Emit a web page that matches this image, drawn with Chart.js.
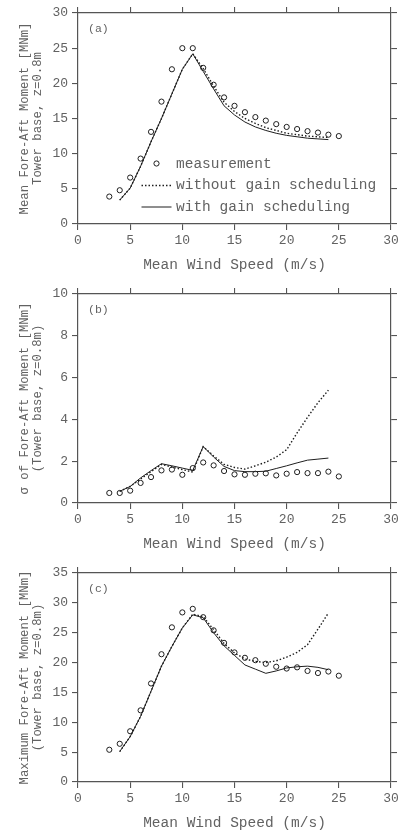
<!DOCTYPE html>
<html>
<head>
<meta charset="utf-8">
<script src="https://cdn.jsdelivr.net/npm/chart.js@4.4.1/dist/chart.umd.min.js"></script>
<style>
  html,body{margin:0;padding:0;background:#fff;}
  body{width:411px;height:831px;position:relative;overflow:hidden;}
  canvas{position:absolute;left:0;}
</style>
</head>
<body>
<canvas id="chartA" width="411" height="275" style="top:0px;width:411px;height:275px"></canvas>
<canvas id="chartB" width="411" height="275" style="top:281px;width:411px;height:275px"></canvas>
<canvas id="chartC" width="411" height="271" style="top:560px;width:411px;height:271px"></canvas>
<script>
/* DATA */
const measSpeed = [3,4,5,6,7,8,9,10,11,12,13,14,15,16,17,18,19,20,21,22,23,24,25];
const simSpeed  = [4,5,6,7,8,9,10,11,12,13,14,15,16,17,18,19,20,21,22,23,24];

// (a) mean fore-aft moment
const meanMeas    = [3.9,4.8,6.6,9.3,13.1,17.4,22.0,25.0,25.0,22.2,19.8,18.0,16.8,15.9,15.2,14.7,14.2,13.8,13.5,13.2,13.0,12.7,12.5];
const meanWithout = [3.4,5.1,8.2,11.7,15.0,18.5,22.0,24.2,22.1,19.6,17.3,16.0,15.0,14.3,13.7,13.3,12.9,12.7,12.5,12.4,12.3];
const meanWith    = [3.4,5.1,8.2,11.7,15.0,18.5,22.0,24.2,21.7,19.2,16.8,15.5,14.5,13.8,13.3,12.9,12.6,12.4,12.2,12.1,12.0];

// (b) sigma of fore-aft moment
const sigmaMeas    = [0.48,0.48,0.59,0.96,1.24,1.56,1.6,1.35,1.67,1.94,1.8,1.53,1.37,1.35,1.4,1.42,1.32,1.4,1.48,1.43,1.43,1.5,1.27];
const sigmaWithout = [0.56,0.79,1.15,1.5,1.85,1.72,1.6,1.48,2.7,2.25,1.85,1.7,1.62,1.78,1.95,2.2,2.55,3.35,4.1,4.8,5.4];
const sigmaWith    = [0.56,0.79,1.2,1.55,1.88,1.78,1.67,1.56,2.7,2.2,1.75,1.55,1.5,1.5,1.52,1.65,1.78,1.92,2.05,2.1,2.15];

// (c) maximum fore-aft moment
const maxMeas    = [5.4,6.4,8.5,12.0,16.5,21.4,25.9,28.4,29.0,27.6,25.4,23.3,21.7,20.8,20.4,19.8,19.3,19.0,19.2,18.6,18.25,18.5,17.8];
const maxWithout = [5.1,7.6,11.0,15.2,19.4,22.7,25.8,28.1,27.7,25.5,23.2,21.6,20.6,20.2,20.0,20.3,20.9,21.7,23.0,25.6,28.3];
const maxWith    = [5.1,7.6,11.0,15.2,19.4,22.7,25.8,28.0,27.5,25.0,22.8,21.2,19.6,18.9,18.2,18.6,19.1,19.3,19.4,19.2,18.8];

const legendLabels = ["measurement","without gain scheduling","with gain scheduling"];
const xTitle = "Mean Wind Speed (m/s)";

/* STYLE */
const FONT = '"Liberation Mono", "Courier New", monospace';
const TEXT = "#626262";
const AXIS = "#555";
const INK = "#1e1e1e";
const DOT = [1.5, 2];

const pts = (xs, ys) => xs.map((x,i) => ({x, y: ys[i]}));

/* PLUGINS */
const panelLabel = {
  id:"panelLabel",
  afterDraw(chart, args, opts){
    if(!opts.text) return;
    const {ctx, chartArea} = chart;
    ctx.save();
    ctx.font = "11.5px " + FONT;
    ctx.fillStyle = TEXT;
    ctx.textBaseline = "middle";
    ctx.fillText(opts.text, chartArea.left + 10, chartArea.top + 16);
    ctx.restore();
  }
};

const boxLegend = {
  id:"boxLegend",
  afterDraw(chart, args, opts){
    if(!opts.show) return;
    const {ctx, chartArea} = chart;
    const x0 = chartArea.left + 63.5, x1 = chartArea.left + 93.5, tx = chartArea.left + 98;
    const rows = [chartArea.top + 151.5, chartArea.top + 172.5, chartArea.top + 194];
    ctx.save();
    // marker
    ctx.strokeStyle = INK; ctx.lineWidth = 1;
    ctx.beginPath(); ctx.arc((x0+x1)/2, rows[0] - 1, 2.6, 0, Math.PI*2); ctx.stroke();
    // dotted
    ctx.lineWidth = 1.4; ctx.setLineDash(DOT);
    ctx.beginPath(); ctx.moveTo(x0, rows[1]); ctx.lineTo(x1, rows[1]); ctx.stroke();
    // solid
    ctx.setLineDash([]); ctx.lineWidth = 1;
    ctx.beginPath(); ctx.moveTo(x0, rows[2]); ctx.lineTo(x1, rows[2]); ctx.stroke();
    ctx.font = "14.5px " + FONT;
    ctx.fillStyle = TEXT;
    ctx.textBaseline = "middle";
    legendLabels.forEach((t,i) => ctx.fillText(t, tx, rows[i]));
    ctx.restore();
  }
};

/* CHART FACTORY */
function makeChart(id, cfg){
  const canvas = document.getElementById(id);
  const H = canvas.height;
  const plotTop = cfg.plotTop, plotBottom = cfg.plotBottom;
  const titleLH = 14.5 * 1.2;
  const titlePadBottom = H - (plotBottom + 41) - titleLH/2;

  const grid = {drawOnChartArea:false, drawTicks:true, tickLength:6, color:AXIS, tickColor:AXIS, lineWidth:1.1};
  const border = {display:true, color:AXIS, width:1.2};
  const tickFont = {family:FONT, size:13};

  return new Chart(canvas, {
    type:"scatter",
    data:{
      datasets:[
        { label:legendLabels[0], data:pts(measSpeed, cfg.meas), showLine:false,
          pointStyle:"circle", pointRadius:2.6, pointHoverRadius:2.6, pointBorderWidth:1,
          pointBorderColor:INK, pointBackgroundColor:"rgba(0,0,0,0)" },
        { label:legendLabels[1], data:pts(simSpeed, cfg.without), showLine:true,
          borderColor:INK, borderWidth:1.4, borderDash:DOT, pointRadius:0, tension:0, fill:false },
        { label:legendLabels[2], data:pts(simSpeed, cfg.with), showLine:true,
          borderColor:INK, borderWidth:1, pointRadius:0, tension:0, fill:false }
      ]
    },
    options:{
      responsive:false,
      animation:false,
      events:[],
      layout:{padding:{left:0, right:0, top:0, bottom:0}},
      plugins:{
        legend:{display:false},
        tooltip:{enabled:false},
        panelLabel:{text:cfg.label},
        boxLegend:{show:!!cfg.legend}
      },
      scales:{
        x:{
          type:"linear", position:"bottom", min:0, max:30,
          grid, border,
          ticks:{stepSize:5, color:TEXT, font:tickFont, padding:3, maxRotation:0},
          title:{display:true, text:xTitle, color:TEXT, font:{family:FONT, size:14.5, lineHeight:1.2},
                 padding:{top:0, bottom:titlePadBottom}},
          afterFit: s => { s.height = H - plotBottom; }
        },
        x2:{
          type:"linear", position:"top", min:0, max:30,
          grid, border,
          ticks:{stepSize:5, display:false},
          afterFit: s => { s.height = plotTop; }
        },
        y:{
          type:"linear", position:"left", min:0, max:cfg.yMax,
          grid, border,
          ticks:{stepSize:cfg.yStep, color:TEXT, font:tickFont, padding:4},
          title:{display:true, text:cfg.yTitle, color:TEXT, font:{family:FONT, size:12.3, lineHeight:1.06},
                 padding:{top:18, bottom:0}},
          afterFit: s => { s.width = 78; }
        },
        y2:{
          type:"linear", position:"right", min:0, max:cfg.yMax,
          grid, border,
          ticks:{stepSize:cfg.yStep, display:false},
          afterFit: s => { s.width = 20; }
        }
      }
    },
    plugins:[panelLabel, boxLegend]
  });
}

makeChart("chartA", {
  plotTop:13, plotBottom:224, yMax:30, yStep:5, label:"(a)", legend:true,
  yTitle:["Mean Fore-Aft Moment [MNm]", "Tower base, z=0.8m"],
  meas:meanMeas, without:meanWithout, with:meanWith
});
makeChart("chartB", {
  plotTop:13, plotBottom:222, yMax:10, yStep:2, label:"(b)",
  yTitle:["σ of Fore-Aft Moment [MNm]", "(Tower base, z=0.8m)"],
  meas:sigmaMeas, without:sigmaWithout, with:sigmaWith
});
makeChart("chartC", {
  plotTop:13, plotBottom:222, yMax:35, yStep:5, label:"(c)",
  yTitle:["Maximum Fore-Aft Moment [MNm]", "(Tower base, z=0.8m)"],
  meas:maxMeas, without:maxWithout, with:maxWith
});
</script>
</body>
</html>
